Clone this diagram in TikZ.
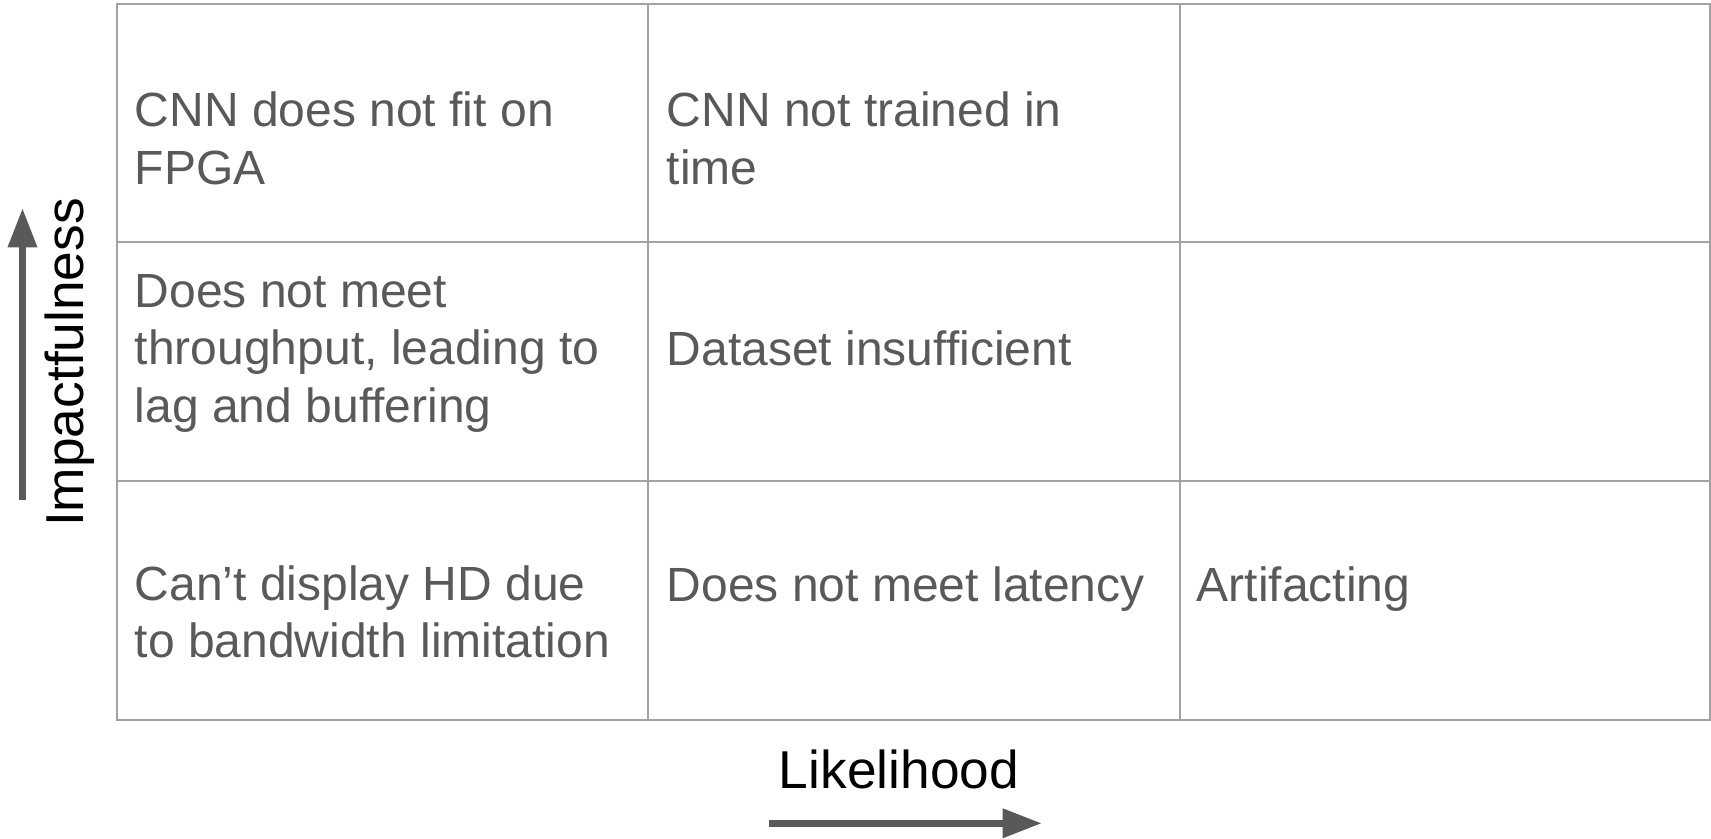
\documentclass[tikz,border=0pt]{standalone}
\usepackage{fontspec}
\setmainfont{Liberation Sans}
\usetikzlibrary{arrows.meta}
\definecolor{txtgray}{HTML}{595959}
\definecolor{gridgray}{HTML}{A3A3A3}
\newcommand\celllines[1]{\begin{tabular}[t]{@{}l@{}}#1\end{tabular}}
\tikzset{
  gridline/.style={draw=gridgray, line width=1pt},
  celltxt/.style={anchor=base west, inner sep=0pt, text=txtgray,
    font=\fontsize{24}{28.75}\selectfont},
  axislabel/.style={anchor=base, inner sep=0pt, text=black,
    font=\fontsize{26.65}{30}\selectfont},
  axisarrow/.style={draw=txtgray, line width=3.3pt,
    -{Triangle[length=19.5pt,width=14pt]}, color=txtgray}
}
\begin{document}
\begin{tikzpicture}[x=0.5pt,y=-0.5pt]
\useasboundingbox (0,0) rectangle (1711,839);
% grid
\coordinate (tl) at (116.5,4.3);
\coordinate (br) at (1710,720);
\draw[gridline] (tl) rectangle (br);
\draw[gridline] (648.2,4.3) -- (648.2,720);
\draw[gridline] (1179.6,4.3) -- (1179.6,720);
\draw[gridline] (116.5,242.3) -- (1710,242.3);
\draw[gridline] (116.5,481.2) -- (1710,481.2);
% cell texts
\node[celltxt] (c11) at (134.5,126.7) {\celllines{CNN does not fit on\\FPGA}};
\node[celltxt] (c12) at (666.5,126.7) {\celllines{CNN not trained in\\time}};
\node[celltxt] (c21) at (134.5,307.3) {\celllines{Does not meet\\throughput, leading to\\lag and buffering}};
\node[celltxt] (c22) at (666.5,365) {Dataset insufficient};
\node[celltxt] (c31) at (134.5,600) {\celllines{Can’t display HD due\\to bandwidth limitation}};
\node[celltxt] (c32) at (666.5,601.7) {Does not meet latency};
\node[celltxt] (c33) at (1196.5,601.7) {Artifacting};
% axis labels
\node[axislabel, rotate=90] (impact) at (83,362.5) {Impactfulness};
\node[axislabel] (likely) at (899,788.3) {Likelihood};
% arrows
\coordinate (ia) at (22.5,500);
\coordinate (ib) at (22.5,208.3);
\draw[axisarrow] (ia) -- (ib);
\coordinate (la) at (769,823.3);
\coordinate (lb) at (1041.7,823.3);
\draw[axisarrow] (la) -- (lb);
\end{tikzpicture}
\end{document}
